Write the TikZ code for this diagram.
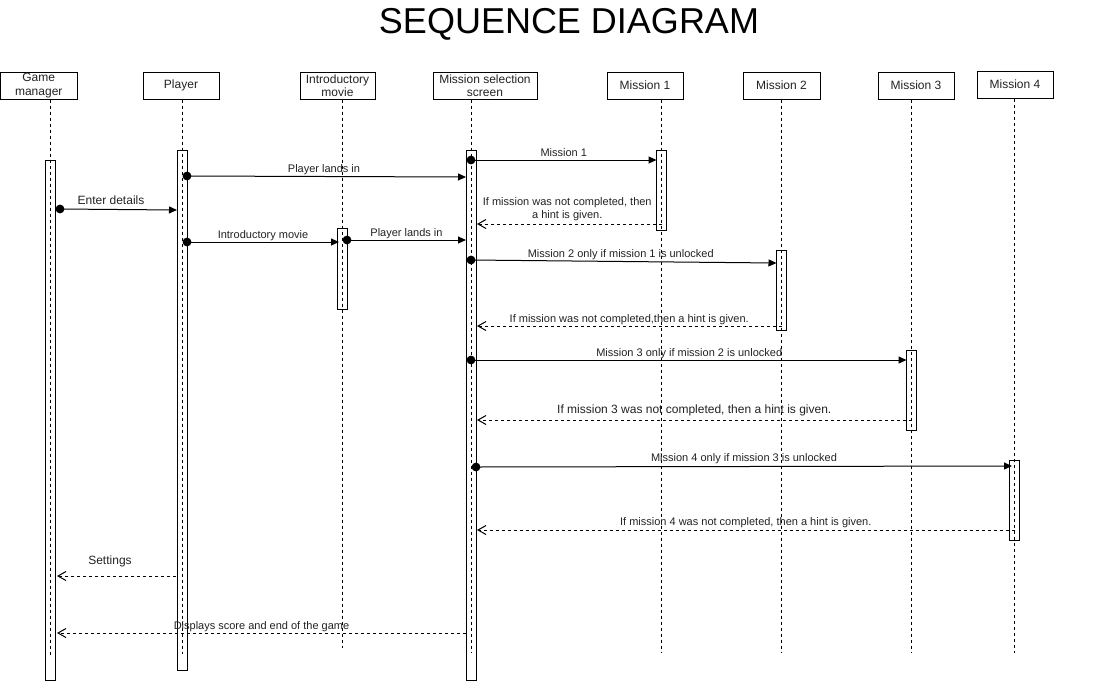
\documentclass[tikz,border=0pt]{standalone}
\usepackage{fontspec}
\setmainfont{Liberation Sans}
\usetikzlibrary{arrows.meta}
\definecolor{ink}{RGB}{34,34,34}
\begin{document}
\begin{tikzpicture}[x=1pt,y=-1pt,
  head/.style={draw, line width=1pt, minimum width=#1, minimum height=27pt,
    inner sep=0pt, align=center, font=\fontsize{12}{13.5}\selectfont, text=ink},
  act/.style={draw, line width=1pt, minimum width=10pt, minimum height=#1, inner sep=0pt},
  life/.style={line width=1pt, dash pattern=on 3pt off 3pt},
  sync/.style={line width=1pt, -{Triangle[length=8pt,width=7pt]}},
  reply/.style={line width=1pt, dash pattern=on 3pt off 3pt,
    -{Straight Barb[length=8pt,width=9pt]}},
  lbl/.style={font=\fontsize{11}{13}\selectfont, text=ink, anchor=base, inner sep=0pt},
  lblb/.style={lbl, font=\fontsize{12}{14}\selectfont},
  dot/.style={fill=black},
]
\useasboundingbox (0,0) rectangle (1105,681);

% title
\node[font=\fontsize{36}{40}\selectfont, anchor=base, inner sep=0pt] (title) at (569,33) {SEQUENCE DIAGRAM};

% participants
\node[head=76.5pt] (gm) at (38.75,85.5) {Game\\manager};
\node[head=76pt]   (pl) at (181,85.5)   {Player};
\node[head=75pt]   (im) at (337.5,85.5) {Introductory\\movie};
\node[head=104pt]  (ms) at (485,85.5)   {Mission selection\\screen};
\node[head=76pt]   (m1) at (645,85.5)   {Mission 1};
\node[head=77pt]   (m2) at (781.5,85.5) {Mission 2};
\node[head=76pt]   (m3) at (916,85.5)   {Mission 3};
\node[head=76pt]   (m4) at (1015,84.5)  {Mission 4};

% activation bars
\node[act=520pt] (gmA) at (50,420)     {};
\node[act=520pt] (plA) at (182,410)    {};
\node[act=81pt]  (imA) at (342,268.5)  {};
\node[act=530pt] (msA) at (471,415)    {};
\node[act=80pt]  (m1A) at (661.5,190)  {};
\node[act=80pt]  (m2A) at (781.5,290)  {};
\node[act=80pt]  (m3A) at (911.5,390)  {};
\node[act=80pt]  (m4A) at (1014.5,500) {};

% lifeline ends
\coordinate (gmEnd) at (50,655);
\coordinate (plEnd) at (182,654);
\coordinate (imEnd) at (342,648);
\coordinate (msEnd) at (471,653);
\coordinate (m1End) at (661.5,653);
\coordinate (m2End) at (781.5,653);
\coordinate (m3End) at (911.5,653);
\coordinate (m4End) at (1014.5,653);

\draw[life] (gmA |- gm.south) -- (gmEnd);
\draw[life] (plA |- pl.south) -- (plEnd);
\draw[life] (imA |- im.south) -- (imEnd);
\draw[life] (msA |- ms.south) -- (msEnd);
\draw[life] (m1A |- m1.south) -- (m1End);
\draw[life] (m2A |- m2.south) -- (m2End);
\draw[life] (m3A |- m3.south) -- (m3End);
\draw[life] (m4A |- m4.south) -- (m4End);

% message end points
\coordinate (a1) at (187,176);    \coordinate (b1) at (466,177);
\coordinate (a2) at (60,209);     \coordinate (b2) at (177,210);
\coordinate (a3) at (187,242);    \coordinate (b3) at (339,242);
\coordinate (a4) at (347,240);    \coordinate (b4) at (466,240);
\coordinate (a5) at (471,160);    \coordinate (b5) at (656.5,160);
\coordinate (a6) at (661.5,224);  \coordinate (b6) at (477,224);
\coordinate (a7) at (471,260);    \coordinate (b7) at (776.5,263);
\coordinate (a8) at (781.5,326);  \coordinate (b8) at (477,326);
\coordinate (a9) at (471,360);    \coordinate (b9) at (906.5,360);
\coordinate (a10) at (911.5,420); \coordinate (b10) at (477,420);
\coordinate (a11) at (476,467);   \coordinate (b11) at (1012,466);
\coordinate (a12) at (1014.5,530);\coordinate (b12) at (477,530);
\coordinate (a13) at (176,576);   \coordinate (b13) at (57,576);
\coordinate (a14) at (466,633);   \coordinate (b14) at (57,633);

% synchronous calls
\draw[sync] (a1) -- node[lbl, xshift=-2.5pt, yshift=4.5pt] {Player lands in} (b1);
\draw[sync] (a2) -- node[lblb, xshift=-7.5pt, yshift=5.5pt] {Enter details} (b2);
\draw[sync] (a3) -- node[lbl, yshift=4pt] {Introductory movie} (b3);
\draw[sync] (a4) -- node[lbl, yshift=4pt] {Player lands in} (b4);
\draw[sync] (a5) -- node[lbl, yshift=4pt] {Mission 1} (b5);
\draw[sync] (a7) -- node[lbl, xshift=-3pt, yshift=4.5pt] {Mission 2 only if mission 1 is unlocked} (b7);
\draw[sync] (a9) -- node[lbl, xshift=0.5pt, yshift=4pt] {Mission 3 only if mission 2 is unlocked} (b9);
\draw[sync] (a11) -- node[lbl, yshift=5.5pt] {Mission 4 only if mission 3 is unlocked} (b11);

% replies
\draw[reply] (a6) -- node[lbl, anchor=south, align=center, xshift=-2pt, yshift=2.5pt]
  {If mission was not completed, then\\a hint is given.} (b6);
\draw[reply] (a8) -- node[lbl, yshift=4pt] {If mission was not completed,then a hint is given.} (b8);
\draw[reply] (a10) -- node[lblb, yshift=7pt] {If mission 3 was not completed, then a hint is given.} (b10);
\draw[reply] (a12) -- node[lbl, yshift=5pt] {If mission 4 was not completed, then a hint is given.} (b12);
\draw[reply] (a13) -- node[lblb, xshift=-6.5pt, yshift=12pt] {Settings} (b13);
\draw[reply] (a14) -- node[lbl, yshift=4pt] {Displays score and end of the game} (b14);

% call origins
\foreach \p in {a1,a2,a3,a4,a5,a7,a9,a11}
  \fill[dot] (\p) circle[radius=4.4pt];
\end{tikzpicture}
\end{document}
